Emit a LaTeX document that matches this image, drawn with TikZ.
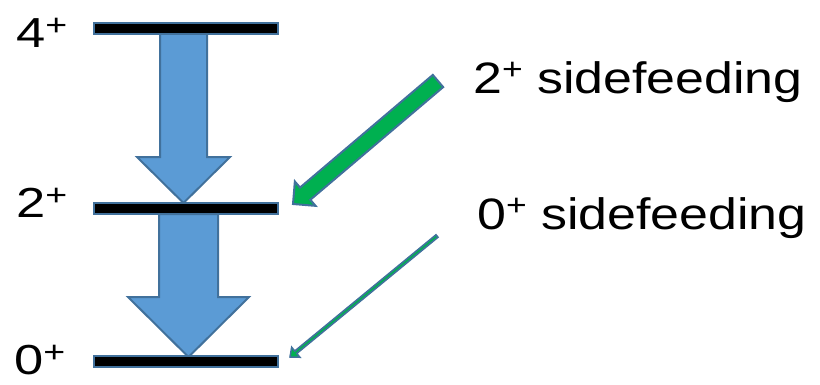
\documentclass[tikz,border=0pt]{standalone}
\usepackage{fontspec}
\setmainfont{Liberation Sans}
\usetikzlibrary{calc}
\definecolor{edge}{HTML}{41719C}
\definecolor{arrblue}{HTML}{5B9BD5}
\definecolor{arrgreen}{HTML}{00B050}
\newcommand\plusup[1]{\raisebox{#1}{\fontsize{30}{30}\selectfont +}}
% style, start, end, half shaft, half head, head length
\newcommand\blkarrow[6]{%
  \coordinate (ba-h) at ($(#3)!#6!(#2)$);
  \draw[#1] ($(#2)!#4!90:(#3)$) -- ($(ba-h)!#4!90:(#3)$) -- ($(ba-h)!#5!90:(#3)$)
    -- (#3) -- ($(ba-h)!#5!-90:(#3)$) -- ($(ba-h)!#4!-90:(#3)$) -- ($(#2)!#4!-90:(#3)$) -- cycle;}
\tikzset{
  lvl/.style={draw=edge, fill=black, line width=2pt},
  bluearr/.style={draw=edge, fill=arrblue, line width=2pt, line join=miter},
  greenarr/.style={draw=edge, fill=arrgreen, line width=2pt, line join=miter},
  thinarr/.style={draw=edge, fill=arrgreen, line width=1.5pt, line join=miter},
  lefttxt/.style={inner sep=0, anchor=base west, font=\fontsize{42}{48}\selectfont},
  righttxt/.style={inner sep=0, anchor=base west, font=\fontsize{44}{50}\selectfont}
}
\begin{document}
\begin{tikzpicture}[x=1pt,y=1pt]
\useasboundingbox (0,0) rectangle (820,384);
% arrow end points
\coordinate (a1s) at (183.5,351);
\coordinate (a1e) at (183.5,181);
\coordinate (a2s) at (188.5,170);
\coordinate (a2e) at (188.5,27);
\coordinate (gs) at (438,303);
\coordinate (ge) at (293,180);
\coordinate (ts) at (437,148);
\coordinate (te) at (290,27);
\blkarrow{bluearr}{a1s}{a1e}{23.5pt}{46.5pt}{46pt}
\blkarrow{bluearr}{a2s}{a2e}{29.5pt}{60.5pt}{60pt}
\blkarrow{greenarr}{gs}{ge}{8pt}{16pt}{16pt}
\blkarrow{thinarr}{ts}{te}{1.6pt}{6.5pt}{7.5pt}
% levels
\draw[lvl] (94,350) rectangle (278,361) node[pos=0.5] (l4) {};
\draw[lvl] (94,170) rectangle (278,181) node[pos=0.5] (l2) {};
\draw[lvl] (94,17) rectangle (278,28) node[pos=0.5] (l0) {};
% labels
\node[lefttxt] (t4) at (16,337) {\scalebox{1.25}[1]{4\plusup{12pt}}};
\node[lefttxt] (t2) at (16,167) {\scalebox{1.25}[1]{2\plusup{12pt}}};
\node[lefttxt] (t0) at (14,9.5) {\scalebox{1.25}[1]{0\plusup{12pt}}};
\node[righttxt] (s2) at (473,291) {\scalebox{1.18}[1]{2\plusup{14pt} sidefeeding}};
\node[righttxt] (s0) at (477,155) {\scalebox{1.18}[1]{0\plusup{14pt} sidefeeding}};
\end{tikzpicture}
\end{document}
